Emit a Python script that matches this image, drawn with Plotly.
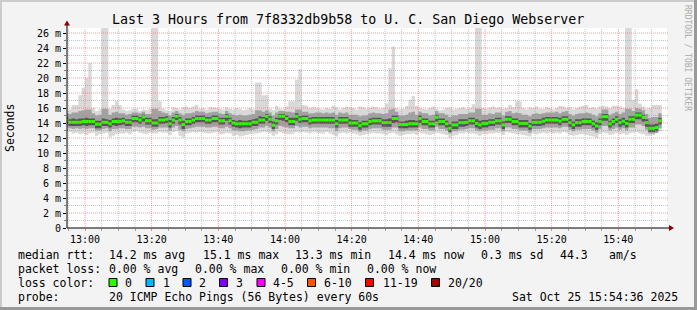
import plotly.graph_objects as go
import pandas as pd

# ---------------- data ----------------
start_time = "2025-10-25 12:54:00"   # first 60 s step
step_seconds = 60
axis_start = "2025-10-25 12:54:36"
axis_end = "2025-10-25 15:54:36"

median_rtt = [
    14.4, 14.1, 14.1, 14.1, 14.1, 14.2, 14.2, 14.2, 14.2, 13.85,
    13.85, 14.1, 14.1, 13.9, 14.2, 14.2, 14.2, 14.3, 14.1, 14.1,
    14.6, 14.6, 14.4, 14.8, 14.3, 14.3, 14.0, 14.0, 14.4, 14.4,
    14.5, 13.9, 14.4, 14.9, 14.4, 13.8, 14.2, 14.2, 14.4, 14.6,
    14.6, 14.6, 14.4, 14.4, 14.6, 14.6, 14.3, 14.3, 14.9, 14.3,
    14.0, 13.9, 13.9, 13.9, 13.9, 13.9, 14.1, 14.1, 14.4, 14.4,
    14.9, 14.5, 13.7, 14.3, 14.9, 14.9, 14.6, 14.2, 14.2, 14.9,
    14.5, 14.6, 14.6, 14.3, 14.4, 14.4, 14.4, 14.4, 14.4, 14.4,
    14.4, 13.9, 14.4, 14.4, 14.4, 14.0, 14.0, 14.0, 13.65, 13.9,
    13.9, 14.2, 14.3, 14.3, 14.3, 14.05, 14.05, 14.05, 14.6, 14.6,
    13.8, 13.8, 13.8, 13.9, 13.9, 13.9, 14.6, 14.2, 14.2, 13.9,
    13.9, 14.75, 14.2, 14.2, 13.9, 13.3, 13.75, 13.75, 14.05, 14.05,
    14.1, 14.3, 14.3, 13.95, 13.75, 13.95, 13.95, 14.1, 14.1, 14.3,
    14.3, 13.75, 14.5, 14.5, 14.2, 14.2, 13.95, 13.95, 13.95, 13.6,
    14.1, 14.1, 14.1, 14.25, 14.4, 14.4, 14.4, 14.4, 14.25, 14.5,
    14.5, 14.05, 13.75, 14.05, 14.05, 14.2, 14.2, 14.2, 13.9, 13.6,
    14.2, 14.85, 14.85, 13.9, 14.2, 14.5, 14.05, 14.25, 13.95, 14.5,
    14.5, 15.05, 15.05, 14.75, 14.05, 13.3, 13.3, 13.4, 14.3,
]

ping_max = [
    15.7, 15.8, 16.4, 16.4, 17.7, 18.7, 20.0, 22.0, 16.0, 15.6,
    15.8, 30.0, 30.0, 15.9, 16.4, 16.9, 16.4, 15.8, 15.6, 15.7,
    15.9, 15.9, 15.6, 15.8, 15.7, 15.9, 30.0, 30.0, 16.9, 15.9,
    15.7, 15.6, 16.1, 16.0, 15.8, 16.1, 16.2, 16.0, 16.2, 16.4,
    15.9, 16.0, 15.8, 16.1, 16.1, 16.0, 15.9, 15.8, 16.1, 15.9,
    15.8, 16.0, 15.9, 15.7, 15.8, 16.0, 15.8, 19.4, 19.4, 17.7,
    17.7, 15.9, 15.7, 16.3, 15.9, 15.8, 16.2, 16.9, 16.9, 19.8,
    21.2, 16.4, 16.3, 16.0, 16.1, 16.0, 15.9, 15.8, 16.0, 15.9,
    16.3, 16.1, 15.8, 16.0, 16.2, 16.1, 16.0, 15.8, 16.2, 16.1,
    15.9, 16.0, 16.2, 16.1, 15.9, 16.0, 16.6, 21.3, 24.2, 16.0,
    15.8, 15.9, 16.3, 17.1, 17.6, 16.3, 16.0, 15.9, 15.8, 16.0,
    16.2, 15.9, 15.7, 15.8, 16.0, 16.1, 15.8, 15.9, 16.0, 16.1,
    15.9, 16.0, 16.5, 30.0, 30.0, 16.0, 15.9, 16.1, 16.2, 16.0,
    16.1, 15.9, 16.0, 16.4, 16.1, 16.9, 16.9, 16.0, 15.8, 16.1,
    16.0, 16.2, 15.9, 15.9, 16.1, 16.0, 15.8, 16.0, 16.3, 16.2,
    16.0, 16.1, 15.8, 16.0, 16.2, 16.3, 16.4, 16.0, 16.1, 15.9,
    16.2, 16.3, 16.2, 16.0, 16.3, 16.3, 16.2, 16.0, 30.0, 30.0,
    17.1, 18.5, 16.6, 16.2, 15.9, 16.0, 16.4, 16.4, 16.4,
]

ping_min = [
    12.9, 12.8, 12.6, 12.7, 12.5, 12.6, 12.4, 12.6, 12.7, 12.3,
    12.5, 12.6, 12.7, 12.1, 12.3, 12.5, 12.6, 12.6, 12.7, 12.5,
    12.8, 12.9, 12.7, 12.6, 12.5, 12.7, 12.6, 12.6, 12.8, 12.7,
    12.7, 12.4, 12.8, 12.9, 12.3, 12.1, 12.6, 12.7, 12.8, 12.7,
    12.8, 12.7, 12.6, 12.6, 12.7, 12.8, 12.5, 12.5, 12.7, 12.6,
    12.3, 12.4, 12.2, 12.3, 12.4, 12.5, 12.6, 12.6, 12.7, 12.8,
    12.8, 12.6, 12.3, 12.5, 12.8, 12.6, 12.5, 12.5, 12.6, 12.8,
    12.7, 12.8, 12.7, 12.6, 12.8, 12.7, 12.6, 12.6, 12.8, 12.6,
    12.4, 12.2, 12.6, 12.7, 12.6, 12.7, 12.6, 12.5, 12.3, 12.4,
    12.5, 12.6, 12.7, 12.6, 12.6, 12.5, 12.4, 12.6, 12.7, 12.5,
    12.3, 12.4, 12.5, 12.5, 12.6, 12.4, 12.7, 12.6, 12.5, 12.4,
    12.5, 12.7, 12.6, 12.5, 12.4, 12.0, 12.3, 12.4, 12.6, 12.6,
    12.7, 12.6, 12.6, 12.5, 12.3, 12.5, 12.5, 12.6, 12.6, 12.7,
    12.7, 12.4, 12.8, 12.7, 12.6, 12.5, 12.5, 12.4, 12.3, 12.2,
    12.6, 12.5, 12.6, 12.7, 12.6, 12.7, 12.6, 12.7, 12.6, 12.8,
    12.7, 12.4, 12.3, 12.4, 12.5, 12.5, 12.4, 12.3, 12.2, 12.0,
    12.5, 12.7, 12.6, 12.4, 12.5, 12.7, 12.5, 12.6, 12.4, 12.6,
    12.7, 12.8, 12.6, 12.5, 12.3, 12.3, 12.4, 12.6, 12.9,
]

smoke_mid_hi = [
    15.3, 15.2, 15.4, 15.4, 15.6, 15.7, 15.8, 15.8, 15.3, 15.0,
    15.1, 15.9, 15.9, 15.1, 15.4, 15.5, 15.3, 15.3, 15.1, 15.2,
    15.4, 15.4, 15.3, 15.5, 15.2, 15.2, 15.9, 15.9, 15.6, 15.4,
    15.3, 15.0, 15.4, 15.6, 15.3, 15.1, 15.3, 15.3, 15.4, 15.6,
    15.5, 15.5, 15.3, 15.4, 15.5, 15.5, 15.3, 15.2, 15.6, 15.3,
    15.1, 15.0, 15.1, 15.0, 15.0, 15.1, 15.2, 15.7, 15.7, 15.5,
    15.7, 15.4, 15.0, 15.4, 15.6, 15.6, 15.5, 15.5, 15.4, 15.8,
    15.8, 15.5, 15.5, 15.3, 15.3, 15.4, 15.4, 15.3, 15.4, 15.3,
    15.4, 15.1, 15.4, 15.3, 15.4, 15.1, 15.1, 15.1, 14.9, 15.0,
    15.0, 15.3, 15.4, 15.3, 15.3, 15.2, 15.3, 15.8, 15.9, 15.5,
    15.0, 15.0, 15.1, 15.4, 15.5, 15.1, 15.5, 15.3, 15.3, 15.0,
    15.1, 15.6, 15.3, 15.3, 15.1, 14.8, 15.0, 15.0, 15.2, 15.2,
    15.2, 15.4, 15.4, 15.9, 15.9, 15.1, 15.1, 15.3, 15.2, 15.4,
    15.4, 15.0, 15.5, 15.6, 15.3, 15.4, 15.3, 15.1, 15.1, 14.9,
    15.2, 15.3, 15.2, 15.3, 15.4, 15.4, 15.4, 15.5, 15.3, 15.5,
    15.6, 15.2, 15.0, 15.2, 15.3, 15.3, 15.4, 15.3, 15.1, 14.9,
    15.3, 15.8, 15.8, 15.1, 15.3, 15.5, 15.2, 15.4, 15.9, 15.9,
    15.6, 16.0, 15.9, 15.7, 15.2, 14.7, 14.8, 14.8, 15.3,
]

smoke_mid_lo = [
    13.5, 13.3, 13.2, 13.3, 13.2, 13.3, 13.2, 13.3, 13.3, 13.0,
    13.0, 13.2, 13.3, 12.9, 13.2, 13.2, 13.3, 13.3, 13.2, 13.2,
    13.5, 13.5, 13.4, 13.5, 13.3, 13.3, 13.1, 13.2, 13.4, 13.4,
    13.4, 13.0, 13.4, 13.6, 13.1, 12.9, 13.2, 13.3, 13.4, 13.5,
    13.5, 13.5, 13.4, 13.4, 13.5, 13.5, 13.3, 13.3, 13.5, 13.3,
    13.0, 13.0, 12.9, 12.9, 13.0, 13.0, 13.1, 13.2, 13.4, 13.4,
    13.6, 13.4, 12.9, 13.2, 13.6, 13.5, 13.4, 13.3, 13.3, 13.6,
    13.4, 13.5, 13.5, 13.3, 13.4, 13.4, 13.4, 13.4, 13.4, 13.3,
    13.3, 12.9, 13.3, 13.4, 13.4, 13.2, 13.1, 13.1, 12.8, 13.0,
    13.0, 13.2, 13.3, 13.3, 13.3, 13.1, 13.1, 13.1, 13.4, 13.4,
    12.9, 12.9, 13.0, 13.0, 13.0, 13.0, 13.4, 13.2, 13.2, 13.0,
    13.0, 13.5, 13.2, 13.2, 13.0, 12.6, 12.9, 12.9, 13.1, 13.1,
    13.2, 13.3, 13.3, 13.0, 12.9, 13.0, 13.0, 13.1, 13.1, 13.3,
    13.3, 12.9, 13.4, 13.4, 13.2, 13.2, 13.0, 13.0, 13.0, 12.7,
    13.2, 13.2, 13.2, 13.3, 13.4, 13.4, 13.4, 13.4, 13.3, 13.5,
    13.5, 13.1, 12.9, 13.1, 13.1, 13.2, 13.2, 13.2, 13.0, 12.7,
    13.2, 13.6, 13.6, 13.0, 13.2, 13.4, 13.1, 13.3, 13.0, 13.4,
    13.4, 13.8, 13.8, 13.6, 13.1, 12.6, 12.6, 12.7, 13.3,
]

smoke_core_hi = [
    14.8, 14.5, 14.6, 14.5, 14.6, 14.6, 14.7, 14.6, 14.6, 14.3,
    14.3, 14.6, 14.5, 14.4, 14.6, 14.7, 14.6, 14.7, 14.5, 14.5,
    15.0, 15.0, 14.8, 15.1, 14.7, 14.7, 14.5, 14.5, 14.8, 14.8,
    14.9, 14.4, 14.8, 15.2, 14.8, 14.3, 14.6, 14.6, 14.8, 15.0,
    15.0, 15.0, 14.8, 14.8, 15.0, 15.0, 14.7, 14.7, 15.2, 14.7,
    14.4, 14.3, 14.4, 14.3, 14.3, 14.4, 14.5, 14.6, 14.9, 14.8,
    15.2, 14.9, 14.2, 14.7, 15.2, 15.2, 15.0, 14.7, 14.7, 15.3,
    14.9, 15.0, 15.0, 14.7, 14.8, 14.8, 14.8, 14.8, 14.8, 14.8,
    14.8, 14.4, 14.8, 14.8, 14.8, 14.5, 14.4, 14.4, 14.1, 14.3,
    14.3, 14.6, 14.7, 14.7, 14.7, 14.5, 14.5, 14.6, 15.0, 15.0,
    14.2, 14.2, 14.3, 14.4, 14.4, 14.3, 15.0, 14.6, 14.6, 14.3,
    14.3, 15.1, 14.6, 14.6, 14.3, 13.8, 14.2, 14.2, 14.5, 14.5,
    14.5, 14.7, 14.7, 14.5, 14.3, 14.4, 14.4, 14.5, 14.5, 14.7,
    14.7, 14.2, 14.9, 14.9, 14.6, 14.6, 14.4, 14.4, 14.4, 14.0,
    14.5, 14.5, 14.5, 14.7, 14.8, 14.8, 14.8, 14.8, 14.7, 14.9,
    14.9, 14.5, 14.2, 14.5, 14.5, 14.6, 14.6, 14.6, 14.3, 14.1,
    14.6, 15.2, 15.2, 14.3, 14.6, 14.9, 14.5, 14.7, 14.4, 14.9,
    14.9, 15.4, 15.4, 15.1, 14.5, 13.8, 13.8, 13.9, 14.7,
]

smoke_core_lo = [
    13.9, 13.6, 13.6, 13.6, 13.6, 13.7, 13.6, 13.7, 13.7, 13.3,
    13.3, 13.6, 13.6, 13.4, 13.7, 13.6, 13.7, 13.8, 13.6, 13.6,
    14.1, 14.1, 13.9, 14.2, 13.8, 13.8, 13.5, 13.5, 13.9, 13.9,
    14.0, 13.4, 13.9, 14.4, 13.8, 13.2, 13.7, 13.7, 13.9, 14.1,
    14.1, 14.1, 13.9, 13.9, 14.1, 14.1, 13.8, 13.8, 14.3, 13.8,
    13.5, 13.4, 13.3, 13.4, 13.4, 13.4, 13.6, 13.6, 13.9, 13.9,
    14.3, 14.0, 13.2, 13.8, 14.4, 14.3, 14.1, 13.7, 13.7, 14.3,
    14.0, 14.1, 14.1, 13.8, 13.9, 13.9, 13.9, 13.9, 13.9, 13.9,
    13.9, 13.4, 13.9, 13.9, 13.9, 13.5, 13.5, 13.5, 13.1, 13.4,
    13.4, 13.7, 13.8, 13.8, 13.8, 13.5, 13.5, 13.5, 14.0, 14.1,
    13.3, 13.3, 13.3, 13.4, 13.4, 13.4, 14.0, 13.7, 13.7, 13.4,
    13.4, 14.2, 13.7, 13.7, 13.4, 12.8, 13.2, 13.2, 13.5, 13.5,
    13.6, 13.8, 13.8, 13.4, 13.2, 13.4, 13.4, 13.6, 13.6, 13.8,
    13.8, 13.2, 14.0, 14.0, 13.7, 13.7, 13.4, 13.4, 13.4, 13.1,
    13.6, 13.6, 13.6, 13.7, 13.9, 13.9, 13.9, 13.9, 13.7, 14.0,
    14.0, 13.5, 13.2, 13.5, 13.5, 13.7, 13.7, 13.7, 13.4, 13.1,
    13.7, 14.3, 14.3, 13.4, 13.7, 14.0, 13.5, 13.7, 13.4, 14.0,
    14.0, 14.5, 14.5, 14.2, 13.5, 12.8, 12.8, 12.9, 13.8,
]

y_tick_values = [0, 2, 4, 6, 8, 10, 12, 14, 16, 18, 20, 22, 24, 26]
y_tick_labels = ["0", "2 m", "4 m", "6 m", "8 m", "10 m", "12 m", "14 m",
                 "16 m", "18 m", "20 m", "22 m", "24 m", "26 m"]
y_max = 26.67

title_text = "Last 3 Hours from 7f8332db9b58 to U. C. San Diego Webserver"
rtt_labels = ["median rtt:", "14.2 ms avg", "15.1 ms max", "13.3 ms min",
              "14.4 ms now", "0.3 ms sd", "44.3", "am/s"]
loss_labels = ["packet loss:", "0.00 % avg", "0.00 % max", "0.00 % min", "0.00 % now"]
loss_color_names = ["0", "1", "2", "3", "4-5", "6-10", "11-19", "20/20"]
loss_colors = ["#26ff00", "#00b8ff", "#0059ff", "#7e00ff", "#ff00ff",
               "#ff5500", "#ff0000", "#a10000"]
probe_text = "20 ICMP Echo Pings (56 Bytes) every 60s"
date_text = "Sat Oct 25 15:54:36 2025"

# ---------------- layout geometry (pixels) ----------------
W, H = 697, 310
L, R, T, B = 67, 30, 28, 82
PW, PH = W - L - R, H - T - B
MONO = "DejaVu Sans Mono"


def px(x):
    return (x - L) / PW


def py(y):
    return (H - B - y) / PH


# ---------------- build figure ----------------
n = len(median_rtt)
t0 = pd.Timestamp(start_time)
dt = pd.Timedelta(seconds=step_seconds)
edges = [t0 + i * dt for i in range(n + 1)]


def step_y(vals):
    return list(vals) + [vals[-1]]


fig = go.Figure()

layers = [
    (ping_min, ping_max, "#d9d9d9"),
    (smoke_mid_lo, smoke_mid_hi, "#a2a2a2"),
    (smoke_core_lo, smoke_core_hi, "#555555"),
]
for lo, hi, col in layers:
    fig.add_trace(go.Scatter(x=edges, y=step_y(lo), mode="lines",
                             line=dict(width=0, shape="hv", color=col),
                             hoverinfo="skip", showlegend=False))
    fig.add_trace(go.Scatter(x=edges, y=step_y(hi), mode="lines",
                             line=dict(width=0, shape="hv", color=col),
                             fill="tonexty", fillcolor=col,
                             hoverinfo="skip", showlegend=False))

# median as short green segments per step
mx, my = [], []
for i, m in enumerate(median_rtt):
    mx += [edges[i], edges[i + 1], None]
    my += [m, m, None]
fig.add_trace(go.Scatter(x=mx, y=my, mode="lines",
                         line=dict(color="#26ff00", width=3),
                         hoverinfo="skip", showlegend=False))

shapes = []
major_col = "rgba(255,90,90,0.6)"
minor_col = "rgba(150,150,150,0.55)"
# horizontal grid
for v in range(1, 27):
    shapes.append(dict(type="line", xref="paper", yref="y", x0=0, x1=1.003,
                       y0=v, y1=v, layer="above",
                       line=dict(color=major_col if v % 2 == 0 else minor_col,
                                 width=1, dash="1px,1px")))
# vertical grid every 5 min
g = pd.Timestamp("2025-10-25 12:55:00")
while g < pd.Timestamp(axis_end):
    is_major = g.minute % 20 == 0
    shapes.append(dict(type="line", xref="x", yref="paper", x0=g, x1=g,
                       y0=0, y1=1, layer="above",
                       line=dict(color=major_col if is_major else minor_col,
                                 width=1, dash="1px,1px")))
    g += pd.Timedelta(minutes=5)

# axis lines with arrow heads
shapes.append(dict(type="line", xref="paper", yref="paper", x0=px(L), x1=px(L),
                   y0=py(228), y1=py(24), line=dict(color="#000000", width=1), layer="above"))
shapes.append(dict(type="line", xref="paper", yref="paper", x0=px(L), x1=px(669),
                   y0=py(228), y1=py(228), line=dict(color="#000000", width=1), layer="above"))
shapes.append(dict(type="path", xref="paper", yref="paper",
                   path=f"M {px(64)} {py(25.5)} L {px(70)} {py(25.5)} L {px(67)} {py(20.5)} Z",
                   fillcolor="#8b0000", line=dict(width=0), layer="above"))
shapes.append(dict(type="path", xref="paper", yref="paper",
                   path=f"M {px(669)} {py(225)} L {px(669)} {py(231)} L {px(674)} {py(228)} Z",
                   fillcolor="#8b0000", line=dict(width=0), layer="above"))

# image frame (rrdtool style shading)
shapes.append(dict(type="rect", xref="paper", yref="paper",
                   x0=px(0), x1=px(W), y0=py(H), y1=py(H - 3),
                   fillcolor="#999999", line=dict(width=0)))
shapes.append(dict(type="rect", xref="paper", yref="paper",
                   x0=px(W - 3), x1=px(W), y0=py(H), y1=py(0),
                   fillcolor="#999999", line=dict(width=0)))
shapes.append(dict(type="rect", xref="paper", yref="paper",
                   x0=px(0), x1=px(W - 3), y0=py(2), y1=py(0),
                   fillcolor="#cbcbcb", line=dict(width=0)))
shapes.append(dict(type="rect", xref="paper", yref="paper",
                   x0=px(0), x1=px(2), y0=py(H - 3), y1=py(0),
                   fillcolor="#cbcbcb", line=dict(width=0)))

# loss colour boxes
box_x = [109, 146, 183, 219.5, 257, 307.5, 365.5, 431.5]
for bx, col in zip(box_x, loss_colors):
    shapes.append(dict(type="rect", xref="paper", yref="paper",
                       x0=px(bx), x1=px(bx + 8), y0=py(286.5), y1=py(278.5),
                       fillcolor=col, line=dict(color="#000000", width=1)))

annotations = []


def txt(x, y, s, size=11.5, anchor="left", color="#000000", angle=0):
    annotations.append(dict(xref="paper", yref="paper", x=px(x), y=py(y), text=s,
                            showarrow=False, xanchor=anchor, yanchor="middle",
                            textangle=angle,
                            font=dict(family=MONO, size=size, color=color)))


txt(348, 19.5, title_text, size=13.3, anchor="center")
txt(10, 128, "Seconds", size=11.5, anchor="center", angle=-90)
txt(688, 58, "RRDTOOL / TOBI OETIKER", size=8, anchor="center", color="#aaaaaa", angle=90)

rtt_x = [16, 107, 200.5, 293, 386, 479, 558, 607]
for x, s in zip(rtt_x, rtt_labels):
    txt(x, 254.5, s)
loss_x = [16, 107, 193, 279, 365]
for x, s in zip(loss_x, loss_labels):
    txt(x, 268.5, s)
txt(16, 282.5, "loss color:")
lc_x = [123, 160.5, 197, 234, 270.5, 321.5, 380.5, 445.5]
for x, s in zip(lc_x, loss_color_names):
    txt(x, 282.5, s)
txt(16, 296.5, "probe:")
txt(107, 296.5, probe_text)
txt(680, 296.5, date_text, anchor="right")

fig.update_layout(
    width=W, height=H,
    margin=dict(l=L, r=R, t=T, b=B, pad=0),
    paper_bgcolor="#f3f3f3", plot_bgcolor="#ffffff",
    showlegend=False,
    shapes=shapes, annotations=annotations,
    xaxis=dict(type="date", range=[axis_start, axis_end],
               dtick=20 * 60 * 1000, tickformat="%H:%M",
               showgrid=False, zeroline=False, showline=False,
               ticks="outside", ticklen=2, tickcolor="#ff8080",
               tickfont=dict(family=MONO, size=10, color="#000000"),
               minor=dict(dtick=5 * 60 * 1000, ticks="outside", ticklen=2,
                          tickcolor="#a0a0a0", showgrid=False),
               fixedrange=True),
    yaxis=dict(range=[0, y_max], tickvals=y_tick_values, ticktext=y_tick_labels,
               showgrid=False, zeroline=False, showline=False,
               ticks="outside", ticklen=3, tickcolor="#000000",
               tickfont=dict(family=MONO, size=10, color="#000000"),
               minor=dict(dtick=1, ticks="outside", ticklen=2, tickcolor="#808080",
                          showgrid=False),
               fixedrange=True),
)

fig.write_html("out.html")
